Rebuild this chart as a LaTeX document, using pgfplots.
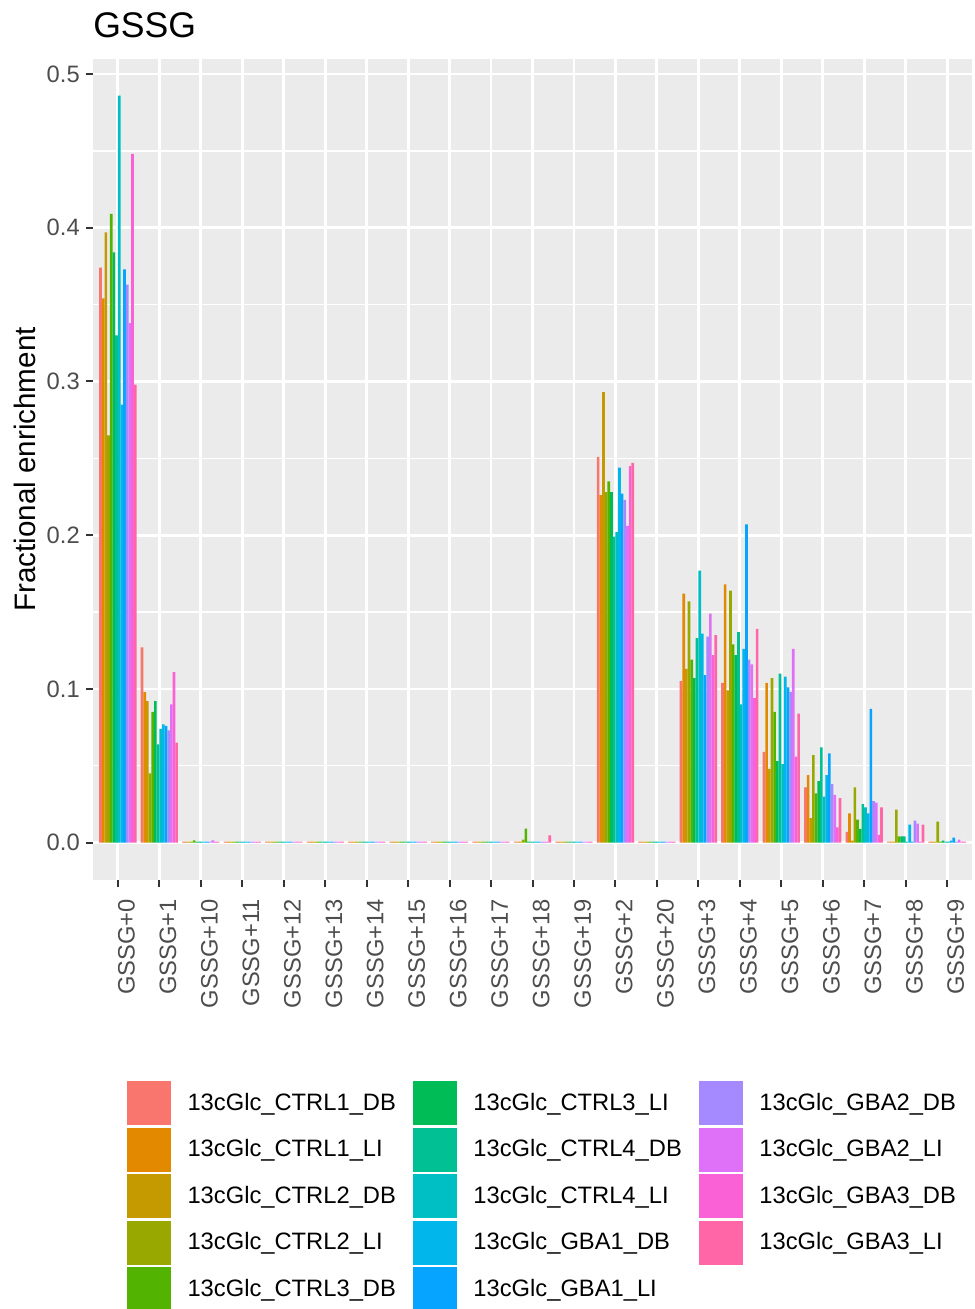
\documentclass[border=0pt]{standalone}
\usepackage{fontspec}
\setmainfont{Liberation Sans}
\usepackage{pgfplots}
\pgfplotsset{compat=1.18}
\usepackage{pgfplotstable}

\definecolor{c0}{HTML}{F8766D}
\definecolor{c1}{HTML}{E38900}
\definecolor{c2}{HTML}{C49A00}
\definecolor{c3}{HTML}{99A800}
\definecolor{c4}{HTML}{53B400}
\definecolor{c5}{HTML}{00BC56}
\definecolor{c6}{HTML}{00C094}
\definecolor{c7}{HTML}{00BFC4}
\definecolor{c8}{HTML}{00B6EB}
\definecolor{c9}{HTML}{06A4FF}
\definecolor{c10}{HTML}{A58AFF}
\definecolor{c11}{HTML}{DF70F8}
\definecolor{c12}{HTML}{FB61D7}
\definecolor{c13}{HTML}{FF66A8}
\definecolor{panel}{HTML}{EBEBEB}
\definecolor{tickc}{HTML}{333333}
\definecolor{tlab}{HTML}{4D4D4D}

\pgfplotstableread{
x s0 s1 s2 s3 s4 s5 s6 s7 s8 s9 s10 s11 s12 s13
0 0.374 0.354 0.397 0.265 0.409 0.384 0.330 0.486 0.285 0.373 0.363 0.338 0.448 0.298
1 0.127 0.098 0.092 0.045 0.085 0.092 0.064 0.074 0.077 0.076 0.073 0.090 0.111 0.065
2 0.0006 0.0006 0.0006 0.0006 0.0015 0.0006 0.0006 0.0006 0.0006 0.0006 0.0006 0.0015 0.0006 0.0006
3 0.0006 0.0006 0.0006 0.0006 0.0006 0.0006 0.0006 0.0006 0.0006 0.0006 0.0006 0.0006 0.0006 0.0006
4 0.0006 0.0006 0.0006 0.0006 0.0006 0.0006 0.0006 0.0006 0.0006 0.0006 0.0006 0.0006 0.0006 0.0006
5 0.0006 0.0006 0.0006 0.0006 0.0006 0.0006 0.0006 0.0006 0.0006 0.0006 0.0006 0.0006 0.0006 0.0006
6 0.0006 0.0006 0.0006 0.0006 0.0006 0.0006 0.0006 0.0006 0.0006 0.0006 0.0006 0.0006 0.0006 0.0006
7 0.0006 0.0006 0.0006 0.0006 0.0006 0.0006 0.0006 0.0006 0.0006 0.0006 0.0006 0.0006 0.0006 0.0006
8 0.0006 0.0006 0.0006 0.0006 0.0006 0.0006 0.0006 0.0006 0.0006 0.0006 0.0006 0.0006 0.0006 0.0006
9 0.0006 0.0006 0.0006 0.0006 0.0006 0.0006 0.0006 0.0006 0.0006 0.0006 0.0006 0.0006 0.0006 0.0006
10 0.0006 0.0006 0.0006 0.002 0.0092 0.0006 0.0006 0.0006 0.0006 0.0006 0.0006 0.0006 0.0006 0.0047
11 0.0006 0.0006 0.0006 0.0006 0.0006 0.0006 0.0006 0.0006 0.0006 0.0006 0.0006 0.0006 0.0006 0.0006
12 0.251 0.226 0.293 0.228 0.235 0.228 0.199 0.202 0.244 0.227 0.223 0.206 0.245 0.247
13 0.0006 0.0006 0.0006 0.0006 0.0006 0.0006 0.0006 0.0006 0.0006 0.0006 0.0006 0.0006 0.0006 0.0006
14 0.105 0.162 0.113 0.157 0.119 0.107 0.133 0.177 0.136 0.109 0.134 0.149 0.122 0.135
15 0.104 0.168 0.099 0.164 0.129 0.122 0.137 0.090 0.126 0.207 0.119 0.116 0.094 0.139
16 0.059 0.104 0.048 0.107 0.085 0.053 0.110 0.051 0.108 0.101 0.098 0.126 0.056 0.084
17 0.036 0.044 0.016 0.057 0.032 0.040 0.062 0.030 0.044 0.058 0.038 0.031 0.010 0.029
18 0.007 0.019 0.0013 0.036 0.015 0.009 0.025 0.023 0.019 0.087 0.027 0.026 0.005 0.023
19 0.0006 0.0006 0.0006 0.0215 0.004 0.004 0.004 0.0006 0.0117 0.0006 0.0143 0.0123 0.0006 0.0117
20 0.0006 0.0006 0.0006 0.0137 0.0006 0.0013 0.0006 0.0006 0.0013 0.0033 0.0006 0.002 0.0006 0.0006
}\data

\newcommand{\lsq}[1]{\addlegendimage{legend image code/.code={\fill[#1] (0pt,-16.125pt) rectangle (32.25pt,16.125pt);}}}
\newcommand{\bp}[3]{\addplot[ybar, forget plot, bar width=0.0642857, bar shift=#2, fill=#1, draw=none] table[x=x,y=#3]{\data};}

\begin{document}
\begin{tikzpicture}
\begin{axis}[
  at={(69.75pt,321.75pt)}, anchor=south west,
  scale only axis, width=659.25pt, height=615.75pt,
  xmin=-0.6, xmax=20.6, ymin=-0.0243, ymax=0.5098,
  axis background/.style={fill=panel},
  axis line style={draw=none},
  xtick={0,...,20},
  xticklabels={GSSG+0,GSSG+1,GSSG+10,GSSG+11,GSSG+12,GSSG+13,GSSG+14,GSSG+15,GSSG+16,GSSG+17,GSSG+18,GSSG+19,GSSG+2,GSSG+20,GSSG+3,GSSG+4,GSSG+5,GSSG+6,GSSG+7,GSSG+8,GSSG+9},
  ytick={0,0.1,0.2,0.3,0.4,0.5},
  yticklabels={0.0,0.1,0.2,0.3,0.4,0.5},
  minor ytick={0.05,0.15,0.25,0.35,0.45},
  xmajorgrids, ymajorgrids, yminorgrids,
  major grid style={white, line width=2.1pt},
  minor grid style={white, line width=1.05pt},
  tick pos=left, tick align=outside,
  major tick length=5.25pt, minor tick length=0pt,
  major tick style={tickc, line width=1.5pt},
  tick label style={font=\fontsize{17.8}{20}\selectfont, text=tlab},
  yticklabel style={inner sep=0pt, xshift=-4.5pt},
  xticklabel style={yshift=-9pt, rotate=90, anchor=north east, inner sep=0pt},
  title={GSSG},
  title style={at={(0,1)}, anchor=base west, yshift=9.75pt, inner sep=0pt, font=\fontsize{26.7}{30}\selectfont},
  ylabel={Fractional enrichment},
  ylabel style={at={(axis description cs:-0.0779,0.5)}, anchor=center, inner sep=0pt, font=\fontsize{22.2}{26}\selectfont},
  legend columns=3, legend cell align=left,
  legend style={at={(0.03868,-0.24482)}, anchor=north west, draw=none, fill=none, inner sep=0pt, outer sep=0pt,
    font=\fontsize{17.8}{20}\selectfont, column sep=12.75pt, row sep=2.25pt, nodes={inner sep=0pt}},
]
\bp{c0}{-0.417857}{s0}
\bp{c1}{-0.353571}{s1}
\bp{c2}{-0.289286}{s2}
\bp{c3}{-0.225}{s3}
\bp{c4}{-0.160714}{s4}
\bp{c5}{-0.096429}{s5}
\bp{c6}{-0.032143}{s6}
\bp{c7}{0.032143}{s7}
\bp{c8}{0.096429}{s8}
\bp{c9}{0.160714}{s9}
\bp{c10}{0.225}{s10}
\bp{c11}{0.289286}{s11}
\bp{c12}{0.353571}{s12}
\bp{c13}{0.417857}{s13}
\lsq{c0}\addlegendentry{13cGlc\_CTRL1\_DB}
\lsq{c5}\addlegendentry{13cGlc\_CTRL3\_LI}
\lsq{c10}\addlegendentry{13cGlc\_GBA2\_DB}
\lsq{c1}\addlegendentry{13cGlc\_CTRL1\_LI}
\lsq{c6}\addlegendentry{13cGlc\_CTRL4\_DB}
\lsq{c11}\addlegendentry{13cGlc\_GBA2\_LI}
\lsq{c2}\addlegendentry{13cGlc\_CTRL2\_DB}
\lsq{c7}\addlegendentry{13cGlc\_CTRL4\_LI}
\lsq{c12}\addlegendentry{13cGlc\_GBA3\_DB}
\lsq{c3}\addlegendentry{13cGlc\_CTRL2\_LI}
\lsq{c8}\addlegendentry{13cGlc\_GBA1\_DB}
\lsq{c13}\addlegendentry{13cGlc\_GBA3\_LI}
\lsq{c4}\addlegendentry{13cGlc\_CTRL3\_DB}
\lsq{c9}\addlegendentry{13cGlc\_GBA1\_LI}
\end{axis}
\pgfresetboundingbox
\useasboundingbox (0,0) rectangle (730.5pt,981.75pt);
\end{tikzpicture}
\end{document}
